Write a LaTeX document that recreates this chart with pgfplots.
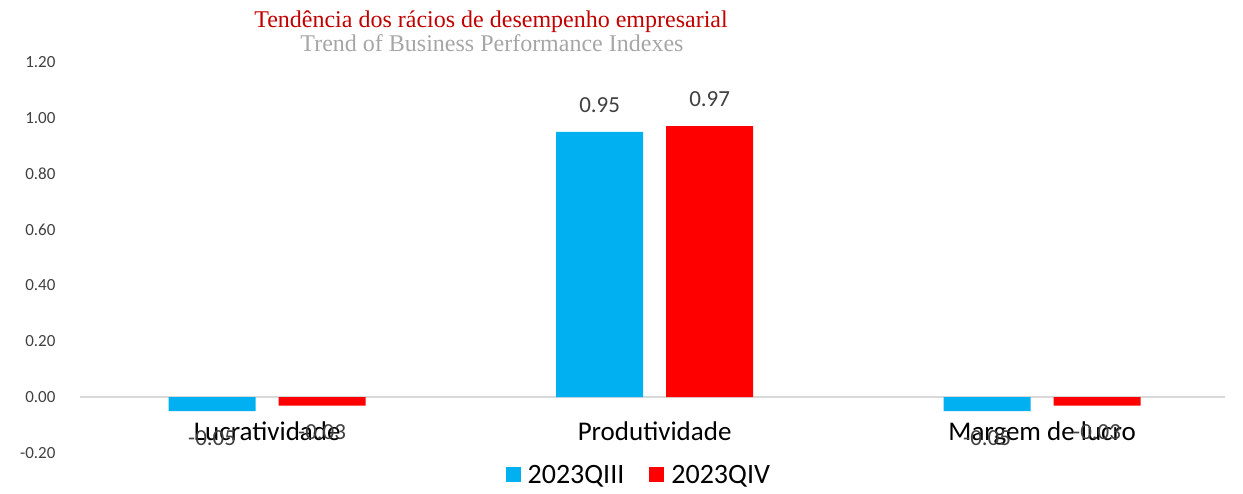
\documentclass[border=0pt]{standalone}
\usepackage{fontspec}
\setmainfont{Carlito}
\newfontfamily\ttlfont{Liberation Serif}
\usepackage{pgfplots}
\pgfplotsset{compat=1.18}
\definecolor{QIII}{HTML}{00B0F0}
\definecolor{QIV}{HTML}{FF0000}
\definecolor{TitleRed}{HTML}{C00000}
\definecolor{SubGray}{HTML}{A6A6A6}
\definecolor{LabelGray}{HTML}{404040}
\definecolor{TickGray}{HTML}{404040}

\begin{document}
\begin{tikzpicture}
\path[use as bounding box] (0,0) rectangle (1243pt,494pt);
\begin{axis}[
    at={(80pt,41pt)}, anchor=south west,
    scale only axis, width=1145pt, height=391pt,
    ybar=23pt, bar width=87pt,
    xmin=-0.483, xmax=2.472, ymin=-0.2, ymax=1.2,
    axis x line=middle, axis y line=left,
    hide obscured x ticks=false, hide obscured y ticks=false,
    x axis line style={-, draw=black!15, line width=1.3pt},
    y axis line style={draw=none},
    xtick={0,1,2},
    xticklabels={Lucratividade,Produtividade,Margem de lucro},
    ytick={-0.2,0,0.2,0.4,0.6,0.8,1.0,1.2},
    major tick length=0pt,
    x tick label style={font=\fontsize{27}{31}\selectfont, text=black, yshift=-21pt},
    y tick label style={font=\fontsize{17}{20}\selectfont, text=TickGray, xshift=-21pt},
    nodes near coords,
    nodes near coords style={font=\fontsize{23}{26}\selectfont, text=LabelGray, inner ysep=19pt},
    legend style={draw=none, fill=none, legend columns=-1,
        font=\fontsize{28}{32}\selectfont,
        at={(axis description cs:0.488,-0.056)}, anchor=center,
        /tikz/every even column/.append style={column sep=23pt}},
    legend image code/.code={\fill[#1] (0pt,-7.5pt) rectangle (15pt,7.5pt); \path (20pt,0pt);},
    /pgf/number format/fixed,
    /pgf/number format/fixed zerofill,
    /pgf/number format/precision=2,
    /pgf/number format/assume math mode=true,
]
\addplot[fill=QIII, draw=none] coordinates {(0,-0.05) (1,0.95) (2,-0.05)};
\addlegendentry{2023QIII}
\addplot[fill=QIV, draw=none] coordinates {(0,-0.03) (1,0.97) (2,-0.03)};
\addlegendentry{2023QIV}
\end{axis}
\node[anchor=base, font=\ttlfont\fontsize{24}{27}\selectfont, text=TitleRed] at (491pt,466pt) {Tendência dos rácios de desempenho empresarial};
\node[anchor=base, font=\ttlfont\fontsize{24}{27}\selectfont, text=SubGray] at (492pt,442pt) {Trend of Business Performance Indexes};
\end{tikzpicture}
\end{document}
